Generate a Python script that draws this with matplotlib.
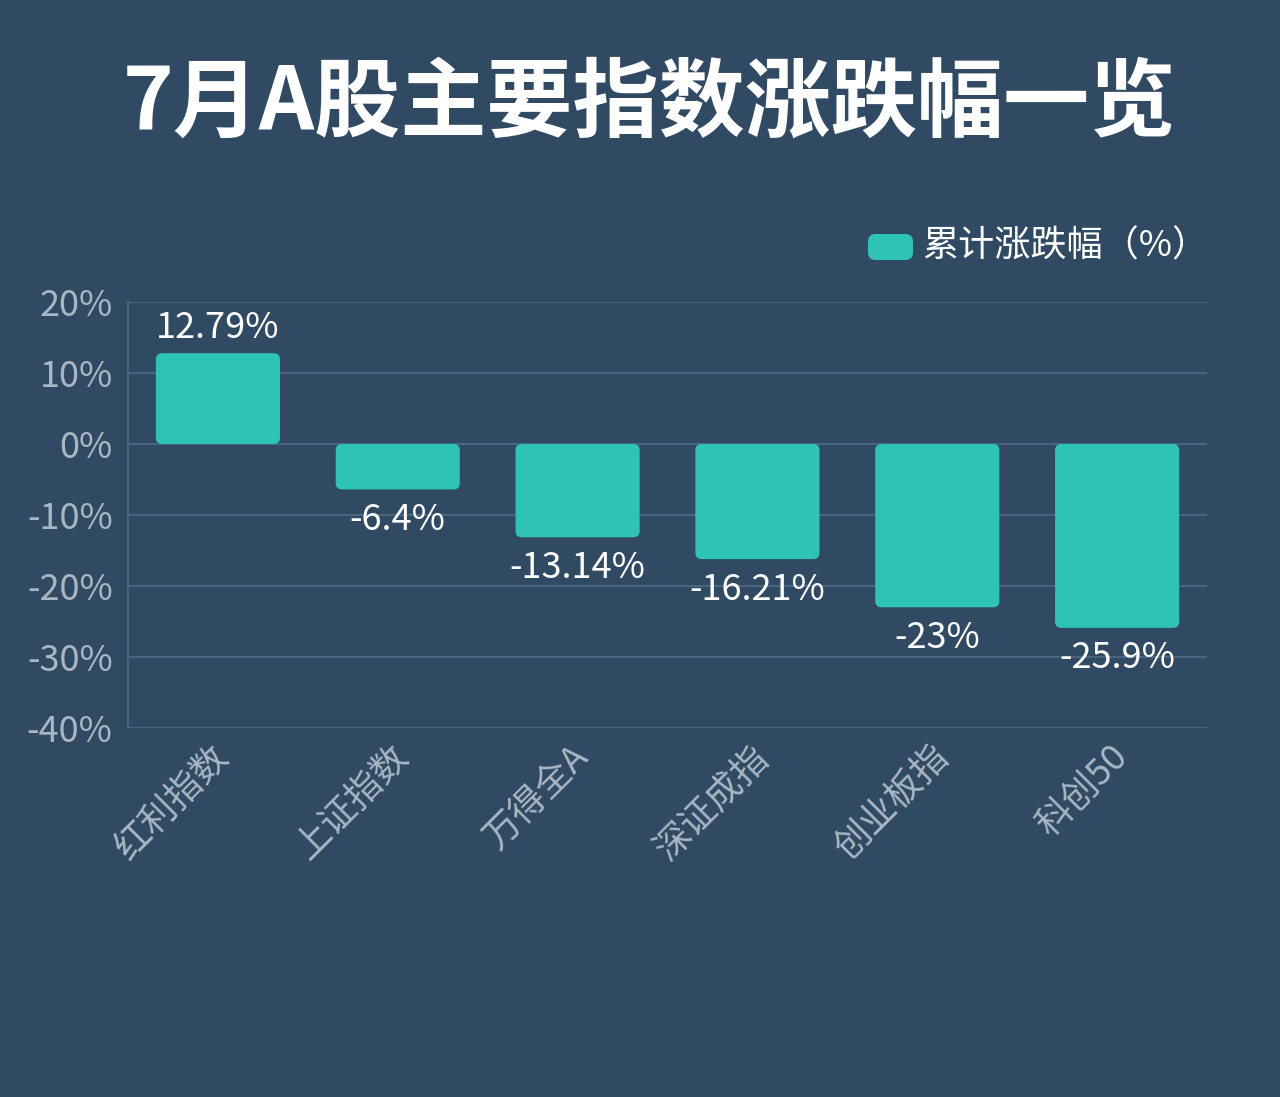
import matplotlib
matplotlib.use("Agg")
import matplotlib.pyplot as plt
from matplotlib.patches import FancyBboxPatch

plt.rcParams['font.family'] = ['Noto Sans CJK SC', 'DejaVu Sans']

categories = ['红利指数', '上证指数', '万得全A', '深证成指', '创业板指', '科创50']
values = [12.79, -6.4, -13.14, -16.21, -23, -25.9]
value_labels = ['12.79%', '-6.4%', '-13.14%', '-16.21%', '-23%', '-25.9%']
yticks = [20, 10, 0, -10, -20, -30, -40]
ytick_labels = ['20%', '10%', '0%', '-10%', '-20%', '-30%', '-40%']
title = '7月A股主要指数涨跌幅一览'
legend_label = '累计涨跌幅（%）'

BG = '#304a63'
BAR = '#2ec4b5'
GRID = '#4b6580'
TICK = '#a9b6c4'

fig = plt.figure(figsize=(12.8, 10.97), dpi=100, facecolor=BG)
ax = fig.add_axes([0.1, 0.3364, 0.843, 0.3883])
ax.set_facecolor(BG)

bars = ax.bar(range(len(categories)), values, width=0.69, color=BAR)
# replace with rounded bars
for b in bars:
    x, y = b.get_x(), b.get_y()
    w, h = b.get_width(), b.get_height()
    if h < 0:
        y, h = y + h, -h
    b.set_visible(False)
    p = FancyBboxPatch((x, y), w, h, boxstyle='round,pad=0,rounding_size=0.035',
                       mutation_aspect=25, facecolor=BAR, edgecolor='none', zorder=3)
    ax.add_patch(p)

for i, (v, lab) in enumerate(zip(values, value_labels)):
    if v >= 0:
        ax.annotate(lab, (i, v), xytext=(0, 5), textcoords='offset points',
                    ha='center', va='bottom', color='white', fontsize=26, zorder=4)
    else:
        ax.annotate(lab, (i, v), xytext=(0, -9), textcoords='offset points',
                    ha='center', va='top', color='white', fontsize=26, zorder=4)

ax.set_xlim(-0.5, len(categories) - 0.5)
ax.set_ylim(-40, 20)
ax.set_yticks(yticks)
ax.set_yticklabels(ytick_labels, color=TICK, fontsize=26)
ax.set_xticks([i - 0.04 for i in range(len(categories))])
ax.set_xticklabels(categories, color=TICK, fontsize=26, rotation=45,
                   ha='right', va='top', rotation_mode='anchor')
ax.tick_params(axis='both', length=0)
ax.tick_params(axis='y', pad=11)
ax.tick_params(axis='x', pad=8)
ax.yaxis.grid(True, color=GRID, linewidth=1.5, zorder=0)
ax.set_axisbelow(True)
for s in ['top', 'right', 'bottom']:
    ax.spines[s].set_visible(False)
ax.spines['left'].set_color(GRID)
ax.spines['left'].set_linewidth(1.5)

fig.text(0.507, 0.905, title, ha='center', va='center', color='white',
         fontsize=62, fontweight='black')

# legend
lp = FancyBboxPatch((868 / 1280, 1 - 260 / 1097), 45 / 1280, 26 / 1097,
                    boxstyle='round,pad=0,rounding_size=0.006', mutation_aspect=1280 / 1097,
                    transform=fig.transFigure, facecolor=BAR, edgecolor='none')
fig.patches.append(lp)
fig.text(922 / 1280, 1 - 247 / 1097, legend_label, ha='left', va='center',
         color='white', fontsize=26)

fig.savefig('out.png', dpi=100, facecolor=BG)
